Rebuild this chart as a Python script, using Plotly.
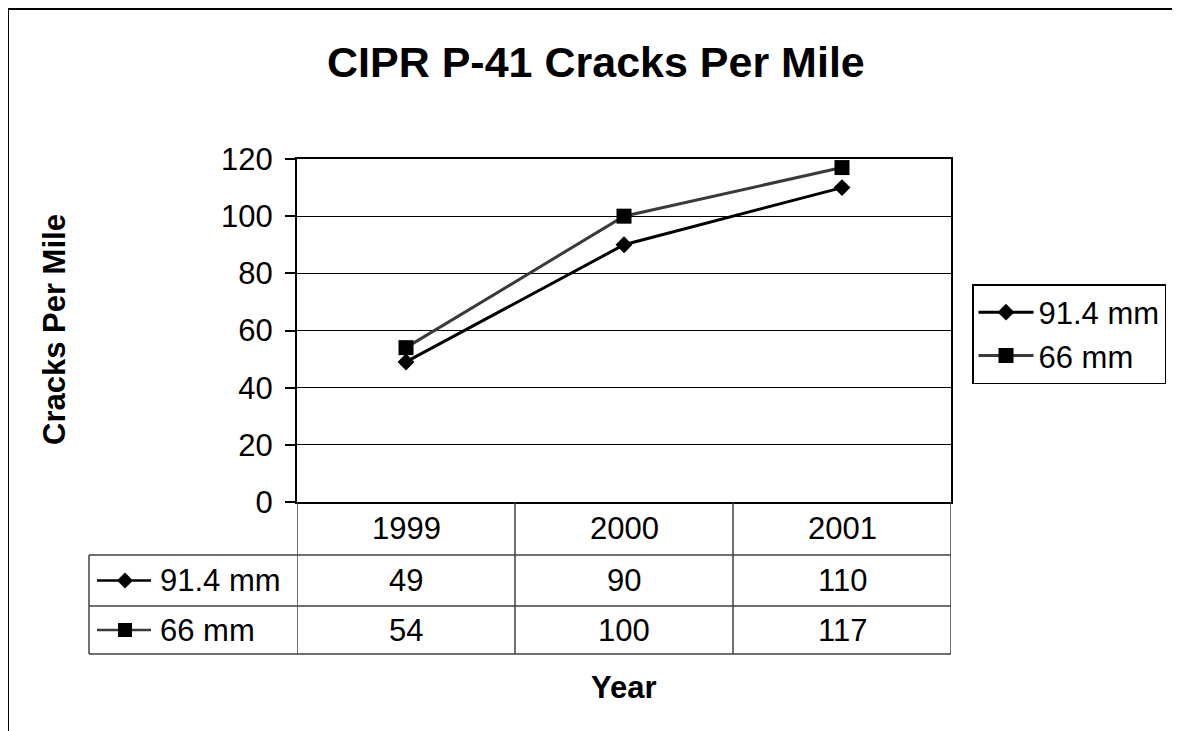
import plotly.graph_objects as go

# ---- data ----
years = ["1999", "2000", "2001"]
series_names = ["91.4 mm", "66 mm"]
s_914 = [49, 90, 110]
s_66 = [54, 100, 117]
y_ticks = [0, 20, 40, 60, 80, 100, 120]

title = "CIPR P-41 Cracks Per Mile"
x_title = "Year"
y_title = "Cracks Per Mile"

# ---- layout geometry (figure pixels; page body margin adds 8px) ----
W, H = 1180, 731
L, R, T, B = 289, 943, 151, 494  # plot area
FONT = "Arial, Liberation Sans, sans-serif"
FS = 31


def X(p):
    return (p - L) / (R - L)


def Y(p):
    return (B - p) / (B - T)


series = [
    dict(name=series_names[0], y=s_914, color="#000000", symbol="diamond", size=13),
    dict(name=series_names[1], y=s_66, color="#3a3a3a", symbol="square", size=15),
]

fig = go.Figure()
idx = list(range(len(years)))
for s in series:
    fig.add_trace(go.Scatter(
        x=idx, y=s["y"], name=s["name"], mode="lines+markers",
        line=dict(color=s["color"], width=3),
        marker=dict(symbol=s["symbol"], size=s["size"], color="#000000",
                    line=dict(width=0)),
    ))

shapes = []
annos = []
tcol = "#404040"
# table horizontal lines
for yy in [547, 598, 646]:
    shapes.append(dict(type="line", xref="paper", yref="paper",
                       x0=X(81), x1=X(R), y0=Y(yy), y1=Y(yy),
                       line=dict(color=tcol, width=1.5)))
# table vertical lines
shapes.append(dict(type="line", xref="paper", yref="paper",
                   x0=X(81), x1=X(81), y0=Y(547), y1=Y(646),
                   line=dict(color=tcol, width=1.5)))
for i in range(len(years) + 1):
    shapes.append(dict(type="line", xref="x", yref="paper",
                       x0=i - 0.5, x1=i - 0.5, y0=Y(B), y1=Y(646),
                       line=dict(color=tcol, width=1.5)))
# header years
for i, yr in enumerate(years):
    annos.append(dict(text=yr, xref="x", yref="paper", x=i, y=Y(520.5),
                      showarrow=False, xanchor="center", yanchor="middle",
                      font=dict(size=FS, family=FONT, color="black")))
# rows
row_centers = [572.5, 622]
for r, s in enumerate(series):
    yc = Y(row_centers[r])
    shapes.append(dict(type="line", xref="paper", yref="paper",
                       x0=X(89), x1=X(143), y0=yc, y1=yc,
                       line=dict(color=s["color"], width=2.5)))
    if s["symbol"] == "diamond":
        path = "M-8,0 L0,8 L8,0 L0,-8 Z"
    else:
        path = "M-7,-7 L7,-7 L7,7 L-7,7 Z"
    shapes.append(dict(type="path", xref="paper", yref="paper",
                       xsizemode="pixel", ysizemode="pixel",
                       xanchor=X(117), yanchor=yc, path=path,
                       fillcolor="black", line=dict(width=0)))
    annos.append(dict(text=s["name"], xref="paper", yref="paper", x=X(150), y=yc,
                      showarrow=False, xanchor="left", yanchor="middle",
                      font=dict(size=FS, family=FONT, color="black")))
    for i, v in enumerate(s["y"]):
        annos.append(dict(text=str(v), xref="x", yref="paper", x=i, y=yc,
                          showarrow=False, xanchor="center", yanchor="middle",
                          font=dict(size=FS, family=FONT, color="black")))

# axis titles
annos.append(dict(text="<b>%s</b>" % y_title, xref="paper", yref="paper",
                  x=X(46), y=Y(322), textangle=-90, showarrow=False,
                  xanchor="center", yanchor="middle",
                  font=dict(size=FS, family=FONT, color="black")))
annos.append(dict(text="<b>%s</b>" % x_title, xref="paper", yref="paper",
                  x=X(616), y=Y(679), showarrow=False,
                  xanchor="center", yanchor="middle",
                  font=dict(size=FS, family=FONT, color="black")))
annos.append(dict(text="<b>%s</b>" % title, xref="paper", yref="paper",
                  x=X(588), y=Y(54), showarrow=False,
                  xanchor="center", yanchor="middle",
                  font=dict(size=43, family=FONT, color="black")))

# outer frame (chart area border, extends past the visible page)
shapes.append(dict(type="rect", xref="paper", yref="paper",
                   x0=X(0), x1=X(1250), y0=Y(1), y1=Y(800),
                   line=dict(color="black", width=2)))

fig.update_layout(
    width=W, height=H,
    margin=dict(l=L, r=W - R, t=T, b=H - B, pad=0),
    paper_bgcolor="white", plot_bgcolor="white",
    font=dict(family=FONT, color="black"),
    shapes=shapes, annotations=annos,
    showlegend=True,
    legend=dict(x=X(964), y=Y(276), xanchor="left", yanchor="top",
                xref="paper", yref="paper",
                bordercolor="black", borderwidth=1.5, bgcolor="white",
                font=dict(size=FS, family=FONT, color="black"),
                itemwidth=55, tracegroupgap=0, traceorder="normal"),
    xaxis=dict(range=[-0.5, len(years) - 0.5], showticklabels=False,
               showgrid=False, zeroline=False, ticks="",
               showline=True, linecolor="black", linewidth=2, mirror=True),
    yaxis=dict(range=[0, 120], tickvals=y_ticks, ticktext=[str(v) for v in y_ticks],
               showgrid=True, gridcolor="black", gridwidth=1, zeroline=False,
               ticks="outside", ticklen=10, tickcolor="black", tickwidth=1.5,
               showline=True, linecolor="black", linewidth=2, mirror=True,
               tickfont=dict(size=FS, family=FONT, color="black"),
               ticklabelstandoff=6),
)

fig.write_html("out.html",
               post_script="document.documentElement.style.overflow='hidden';"
                           "document.body.style.overflow='hidden';")
